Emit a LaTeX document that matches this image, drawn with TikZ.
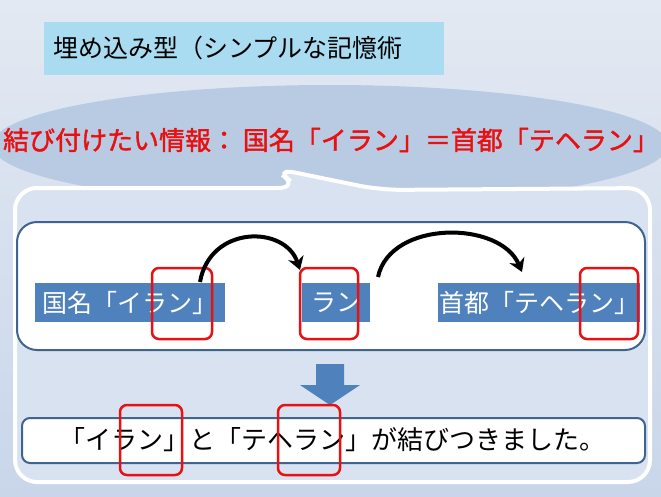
\documentclass[tikz,border=0pt]{standalone}
\usepackage{fontspec}
\setmainfont{Noto Sans CJK JP}[AutoFakeBold=1.5]
\newfontfamily\fbold{Noto Sans CJK JP}[FakeBold=1.5]
\usetikzlibrary{arrows.meta}
\definecolor{bgtop}{HTML}{E3E9F2}
\definecolor{bgbot}{HTML}{C9D6EA}
\definecolor{titlec}{HTML}{A9DCF0}
\definecolor{ellc}{HTML}{B9CAE3}
\definecolor{bluebox}{HTML}{4F81BD}
\definecolor{edge}{HTML}{3F6490}
\definecolor{redc}{HTML}{E81010}
\tikzset{
  bluerect/.style={fill=bluebox,text=white,inner sep=0pt,anchor=center,font=\fontsize{25}{25}\selectfont},
  redmark/.style={draw=redc,line width=2.5pt,rounded corners=7pt},
  whitebox/.style={draw=edge,line width=2pt,fill=white},
  curvearr/.style={line width=4pt,-{Stealth[length=13pt,width=16pt]}},
}
\begin{document}
\begin{tikzpicture}[x=1pt,y=-1pt]
\useasboundingbox (0,0) rectangle (661,496);
\shade[top color=bgtop,bottom color=bgbot] (0,0) rectangle (661,496);
% title
\node[fill=titlec,minimum width=400pt,minimum height=53pt,inner sep=0pt] (title) at (244,48.5) {};
\node[anchor=west,font=\fontsize{25}{25}\selectfont] (titletext) at (50,48) {埋め込み型（シンプルな記憶術};
% ellipse callout
\fill[ellc] (330,145) ellipse [x radius=338pt, y radius=60pt];
% big white outlined frame
\draw[white,line width=4pt,fill=bgbot!70!white,rounded corners=22pt] (15,188) -- (300,188) -- (273,168) -- (380,190) -- (650,188) -- (650,482) -- (15,482) -- cycle;
\node[font=\fontsize{26}{26}\fbold,text=redc] (info) at (331,140) {結び付けたい情報：\ 国名「イラン」＝首都「テヘラン」};
% inner box
\draw[whitebox,rounded corners=20pt] (17,222) rectangle (645,350);
\node[bluerect,minimum width=190pt,minimum height=39pt] (iran) at (130,302.5) {国名「イラン」};
\node[bluerect,minimum width=68pt,minimum height=39pt] (ran) at (336,302.5) {ラン};
\node[bluerect,minimum width=202pt,minimum height=39pt] (teheran) at (539,302.5) {首都「テヘラン」};
\draw[redmark] (152,268) rectangle (212,339);
\draw[redmark] (300,268) rectangle (358,339);
\draw[redmark] (580,268) rectangle (638,339);
\coordinate (a1s) at (200,282);
\coordinate (a1e) at (300,270);
\coordinate (a2s) at (378,277);
\coordinate (a2e) at (522,272);
\draw[curvearr] (a1s) .. controls (210,225) and (285,225) .. (a1e);
\draw[curvearr] (a2s) .. controls (390,220) and (500,220) .. (a2e);
% down arrow
\fill[bluebox] (316,364) -- (344,364) -- (344,385) -- (360,385) -- (330,405) -- (300,385) -- (316,385) -- cycle;
% bottom box
\draw[whitebox,rounded corners=8pt] (22,418) rectangle (645,463);
\node[font=\fontsize{26}{26}\selectfont] (result) at (332,440) {「イラン」と「テヘラン」が結びつきました。};
\draw[redmark] (120,405) rectangle (182,475);
\draw[redmark] (278,405) rectangle (340,475);
\end{tikzpicture}
\end{document}
